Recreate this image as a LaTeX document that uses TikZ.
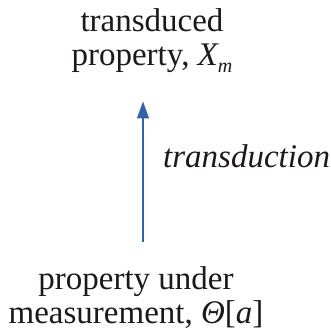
\documentclass[tikz,border=0pt]{standalone}
\usepackage{fontspec}
\setmainfont{Liberation Serif}
\usetikzlibrary{arrows.meta}
\definecolor{inkdark}{RGB}{30,24,26}
\definecolor{arrowblue}{RGB}{52,98,168}
\tikzset{
  lbl/.style={inner sep=0pt, align=center, text=inkdark},
  flow/.style={draw=arrowblue, line width=1.1pt, -{Triangle[length=17pt,width=12pt]}}
}
\newcommand{\lowsub}[1]{\raisebox{-7pt}{\fontsize{20}{20}\selectfont\textit{#1}}}
\begin{document}
\begin{tikzpicture}[x=1pt, y=1pt, font=\fontsize{33}{34}\selectfont, line join=round]
	\useasboundingbox (0,0) rectangle (331,332);
	\path (152,324) coordinate (T)
		(136,3) coordinate (P);
	\node[lbl, anchor=north] (trans) at (T) {transduced\\property, \textit{X}\kern-1pt\lowsub{m}};
	\node[lbl, anchor=south] (prop) at (P) {property under\\measurement, \textit{Θ}[\textit{a}]};
	\draw[flow] ([xshift=7pt,yshift=25pt]prop.north) -- ([xshift=-9pt,yshift=-29pt]trans.south);
	\node[lbl, anchor=base west] (tlabel) at (163,164) {\textit{transduction}};
\end{tikzpicture}
\end{document}
